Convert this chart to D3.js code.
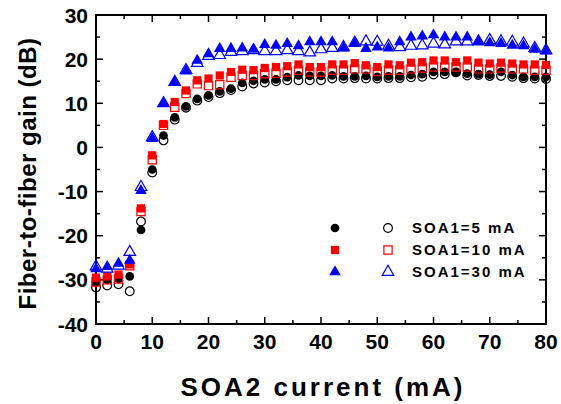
<!DOCTYPE html>
<meta charset="utf-8">
<style>
body { margin: 0; background: #fff; }
svg text { font-family: "Liberation Sans", Arial, sans-serif; font-weight: bold; }
</style>
<body>
<script src="https://d3js.org/d3.v7.min.js"></script>
<script>

const current = [0,2,4,6,8,10,12,14,16,18,20,22,24,26,28,30,32,34,36,38,40,
                 42,44,46,48,50,52,54,56,58,60,62,64,66,68,70,72,74,76,78,80];

// SOA1 = 5 mA
const gain5Filled = [-30.5,-30,-29.8,-29.2,-18.7,-5,2.7,6.8,9.3,11,11.8,12.7,13.3,14.6,15.1,15.4,15.4,15.9,16.3,16.2,16.2,
                     16.3,16.1,16.1,16.2,16,16.1,16.1,16.4,16.6,17.1,17.1,17,16.7,16.6,16.5,17.1,16.4,16,16,16];
const gain5Open   = [-31.7,-31.3,-31,-32.6,-16.8,-5.7,1.6,6.3,9,10.6,11.4,12.3,13,13.8,14.5,14.7,15,15.2,15.2,15.2,15.2,
                     15.6,15.6,15.7,15.6,15.6,15.7,15.7,15.9,16,16.5,16.6,17,16.3,16.4,16.2,16.2,16,15.7,15.6,15.5];
// SOA1 = 10 mA
const gain10Filled = [-29.5,-29.2,-28.8,-26.5,-13.8,-1.8,5.3,10.3,12.9,15.2,15.6,16.3,17.1,17.6,17.5,18,18.2,18.4,18.8,18.2,18.2,
                      18.8,18.8,19.1,18.6,18.2,18.8,18.6,19.2,19.3,19.7,19.7,19.3,19.7,19.2,19,19.2,19,18.8,18.8,18.7];
const gain10Open   = [-30.5,-30,-29.8,-26.8,-14.5,-2.8,5,9.1,12.2,14.4,14,14.2,15.9,16.3,16.3,16.7,16.8,17.1,17.5,17.1,17.1,
                      17.5,17.5,17.8,17.8,17.2,17.5,17.5,17.8,18,18.2,18.2,18.2,18.2,17.8,17.8,18,17.8,17.8,17.5,17.5];
// SOA1 = 30 mA
const gain30Filled = [-27.5,-27,-26.3,-25.6,-9.8,2,10,14.8,17.3,19.7,21.2,22.4,22.4,22.5,22.2,23.3,23.1,23.5,23,23.9,23.9,
                      23.9,22.5,23.5,22.4,22.7,22.5,23.9,25,25.2,25.5,25,25,25,24,23.7,23.5,23.1,23,22.2,21.8];
const gain30Open   = [-27,-27.5,-26.8,-23.7,-9,2.3,10,14.8,17.5,19.1,20.7,20.9,21.6,21.8,22,21.8,21.8,22,21.8,21.5,22.2,
                      22.5,22.7,23.7,24,23.9,23,22.7,23,23.1,23.5,23.3,24,24,24,24.3,24,23.9,23.5,22.5,22];

const xTicks = [0,10,20,30,40,50,60,70,80];
const yTicks = [-40,-30,-20,-10,0,10,20,30];
const legendLabels = ["SOA1=5 mA", "SOA1=10 mA", "SOA1=30 mA"];

var width = 561, height = 404;
var margin = {top: 15, right: 15, bottom: 80, left: 96};
var plotW = width - margin.left - margin.right,
    plotH = height - margin.top - margin.bottom;

var x = d3.scaleLinear().domain([0, 80]).range([0, plotW]);
var y = d3.scaleLinear().domain([-40, 30]).range([plotH, 0]);

var svg = d3.select("body").append("svg")
    .attr("width", width)
    .attr("height", height);

var g = svg.append("g")
    .attr("transform", "translate(" + margin.left + "," + margin.top + ")");

// ticks on all four sides, pointing in
var minorX = d3.range(0, 81, 5), minorY = d3.range(-40, 31, 5);
function tickLen(v) { return v % 10 === 0 ? 7 : 4; }

minorX.forEach(function(v) {
  g.append("line").attr("x1", x(v)).attr("x2", x(v)).attr("y1", plotH).attr("y2", plotH - tickLen(v))
    .attr("stroke", "#000").attr("stroke-width", 1.5);
  g.append("line").attr("x1", x(v)).attr("x2", x(v)).attr("y1", 0).attr("y2", tickLen(v))
    .attr("stroke", "#000").attr("stroke-width", 1.5);
});
minorY.forEach(function(v) {
  g.append("line").attr("x1", 0).attr("x2", tickLen(v)).attr("y1", y(v)).attr("y2", y(v))
    .attr("stroke", "#000").attr("stroke-width", 1.5);
  g.append("line").attr("x1", plotW).attr("x2", plotW - tickLen(v)).attr("y1", y(v)).attr("y2", y(v))
    .attr("stroke", "#000").attr("stroke-width", 1.5);
});

g.append("rect")
  .attr("width", plotW).attr("height", plotH)
  .attr("fill", "none").attr("stroke", "#000").attr("stroke-width", 2);

g.selectAll(".xlab").data(xTicks).enter().append("text")
  .attr("x", function(d) { return x(d); })
  .attr("y", plotH + 25)
  .attr("text-anchor", "middle")
  .attr("font-size", "21px")
  .text(function(d) { return d; });

g.selectAll(".ylab").data(yTicks).enter().append("text")
  .attr("x", -8)
  .attr("y", function(d) { return y(d); })
  .attr("dy", "0.36em")
  .attr("text-anchor", "end")
  .attr("font-size", "21px")
  .text(function(d) { return d; });

svg.append("text")
  .attr("x", margin.left + plotW / 2 + 2)
  .attr("y", 396)
  .attr("text-anchor", "middle")
  .attr("font-size", "26px")
  .attr("letter-spacing", "3px")
  .text("SOA2 current (mA)");

svg.append("text")
  .attr("transform", "translate(36," + (margin.top + plotH / 2 + 4) + ") rotate(-90)")
  .attr("text-anchor", "middle")
  .attr("font-size", "24px")
  .attr("letter-spacing", "0.5px")
  .text("Fiber-to-fiber gain (dB)");

// markers
var sym = {
  circle: d3.symbol().type(d3.symbolCircle).size(60),
  square: d3.symbol().type(d3.symbolSquare).size(68),
  triangle: d3.symbol().type(d3.symbolTriangle).size(58)
};

var series = [
  {vals: gain5Filled,  shape: "circle",   color: "#000",    filled: true},
  {vals: gain5Open,    shape: "circle",   color: "#000",    filled: false},
  {vals: gain10Filled, shape: "square",   color: "#ff0000", filled: true},
  {vals: gain10Open,   shape: "square",   color: "#ff0000", filled: false},
  {vals: gain30Filled, shape: "triangle", color: "#0000ff", filled: true},
  {vals: gain30Open,   shape: "triangle", color: "#0000ff", filled: false}
];

series.forEach(function(s) {
  g.append("g").selectAll("path")
    .data(s.vals.map(function(v, i) { return [current[i], v]; }))
    .enter().append("path")
    .attr("d", sym[s.shape]())
    .attr("transform", function(d) { return "translate(" + x(d[0]) + "," + y(d[1]) + ")"; })
    .attr("fill", s.filled ? s.color : "none")
    .attr("stroke", s.color)
    .attr("stroke-width", s.filled ? 0 : 1.2);
});

// legend
var legend = svg.append("g");
legendLabels.forEach(function(lab, i) {
  var ly = 228 + i * 22;
  legend.append("path").attr("d", sym[series[i * 2].shape]())
    .attr("transform", "translate(335," + ly + ")")
    .attr("fill", series[i * 2].color);
  legend.append("path").attr("d", sym[series[i * 2 + 1].shape]())
    .attr("transform", "translate(388," + ly + ")")
    .attr("fill", "none").attr("stroke", series[i * 2 + 1].color).attr("stroke-width", 1.2);
  legend.append("text")
    .attr("x", 412).attr("y", ly).attr("dy", "0.36em")
    .attr("font-size", "15px")
    .attr("letter-spacing", "2px")
    .text(lab);
});
</script>
</body>
